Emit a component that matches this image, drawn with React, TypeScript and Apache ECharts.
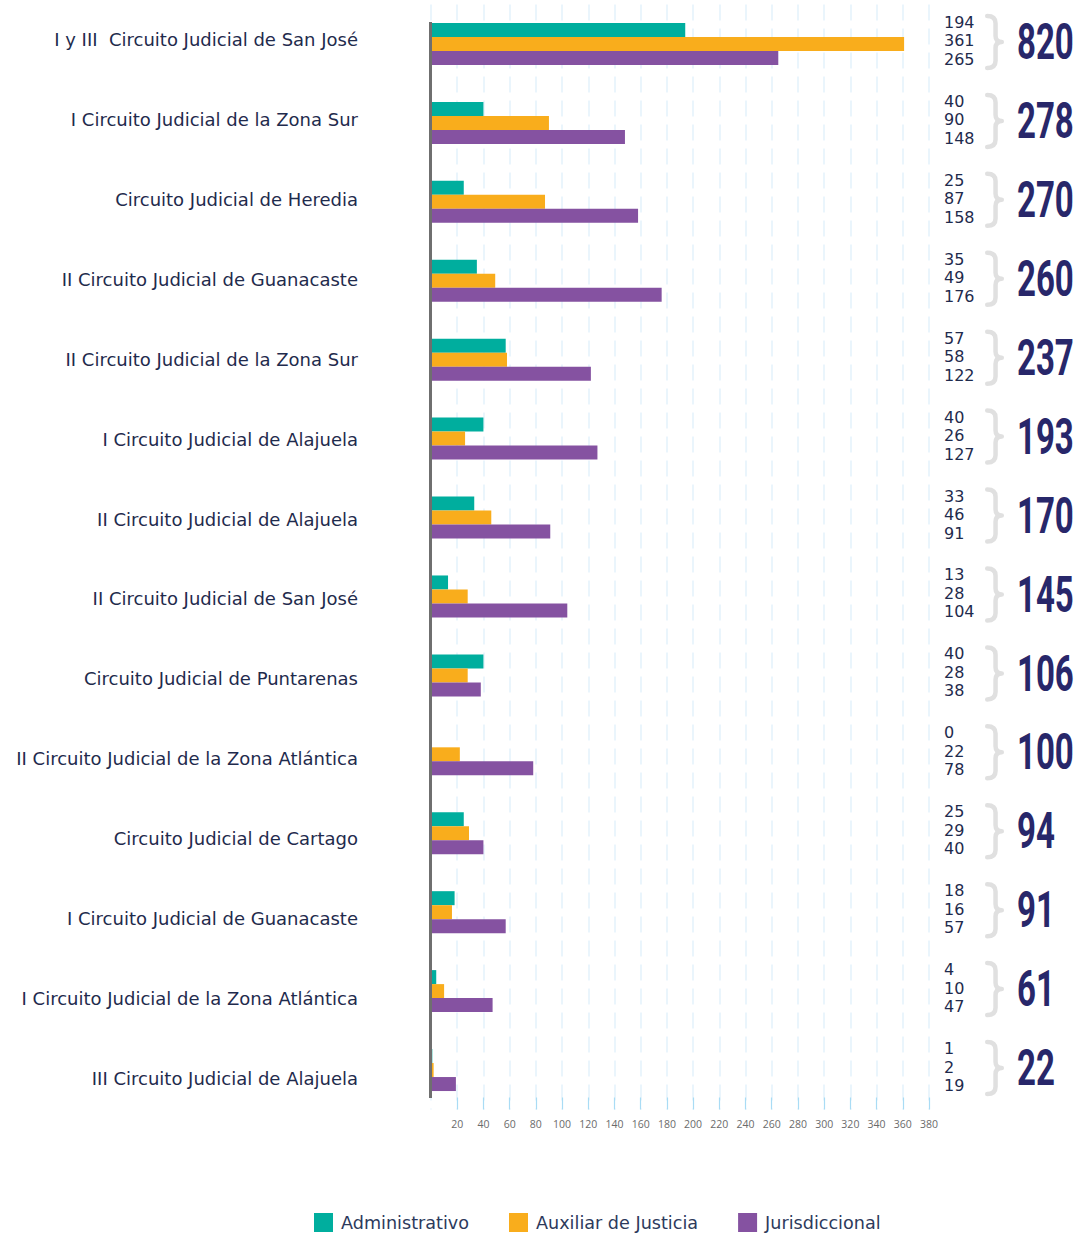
import React, { useEffect, useRef } from "react";
import * as echarts from "echarts";

const categories = [
  "I y III  Circuito Judicial de San José",
  "I Circuito Judicial de la Zona Sur",
  "Circuito Judicial de Heredia",
  "II Circuito Judicial de Guanacaste",
  "II Circuito Judicial de la Zona Sur",
  "I Circuito Judicial de Alajuela",
  "II Circuito Judicial de Alajuela",
  "II Circuito Judicial de San José",
  "Circuito Judicial de Puntarenas",
  "II Circuito Judicial de la Zona Atlántica",
  "Circuito Judicial de Cartago",
  "I Circuito Judicial de Guanacaste",
  "I Circuito Judicial de la Zona Atlántica",
  "III Circuito Judicial de Alajuela",
];
const administrativo = [194, 40, 25, 35, 57, 40, 33, 13, 40, 0, 25, 18, 4, 1];
const auxiliar = [361, 90, 87, 49, 58, 26, 46, 28, 28, 22, 29, 16, 10, 2];
const jurisdiccional = [265, 148, 158, 176, 122, 127, 91, 104, 38, 78, 40, 57, 47, 19];
const totals = [820, 278, 270, 260, 237, 193, 170, 145, 106, 100, 94, 91, 61, 22];
const seriesNames = ["Administrativo", "Auxiliar de Justicia", "Jurisdiccional"];
const colors = ["#00ae9e", "#f9ad1c", "#8552a1"];
const axisMax = 380;
const axisInterval = 20;

const BRACE = "M1,1 Q9,1 9,8 L9,20 Q9,26 15,26 Q9,26 9,32 L9,44 Q9,51 1,51";

export default function App() {
  const ref = useRef<HTMLDivElement>(null);
  useEffect(() => {
    document.body.style.margin = "0";
    document.body.style.overflow = "hidden";
    const chart = echarts.init(ref.current!, null, { renderer: "svg" });
    const font = "Open Sans";
    const labelFont = "DejaVu Sans";
    const annot = categories.map((_, i) => [
      axisMax,
      i,
      administrativo[i],
      auxiliar[i],
      jurisdiccional[i],
      totals[i],
    ]);
    chart.setOption({
      animation: false,
      color: colors,
      grid: [
        { left: 431, top: 4.5, height: 1105, width: 498, containLabel: false },
        { left: 431, top: -2, height: 1120, width: 10, containLabel: false },
      ],
      legend: {
        left: 314,
        top: 1213,
        padding: 0,
        itemWidth: 19,
        itemHeight: 19,
        itemGap: 40,
        icon: "rect",
        textStyle: {
          fontSize: 17.6,
          color: "#2d3a5c",
          fontFamily: labelFont,
          padding: [0, 0, 0, 3],
        },
        data: seriesNames,
      },
      xAxis: [
        {
          type: "value",
          min: 0,
          max: axisMax,
          interval: axisInterval,
          axisLine: { show: false },
          axisTick: {
            show: true,
            inside: true,
            length: 12,
            lineStyle: { color: "#a9dcf5", width: 1.2 },
          },
          axisLabel: {
            showMinLabel: false,
            fontSize: 10.5,
            color: "#6b6b6b",
            fontFamily: font,
            margin: 9,
          },
          splitLine: {
            show: true,
            lineStyle: { color: "#e3f2fc", width: 1.5, type: [16, 8] },
          },
        },
        {
          type: "value",
          gridIndex: 1,
          show: false,
        },
      ],
      yAxis: [
        {
          type: "category",
          data: categories,
          inverse: true,
          axisLine: { show: false },
          axisTick: { show: false },
          axisLabel: { show: false },
        },
        {
          type: "category",
          gridIndex: 1,
          data: categories,
          inverse: true,
          axisLine: { show: false },
          axisTick: { show: false },
          splitLine: { show: false },
          axisLabel: {
            fontSize: 18,
            color: "#1f2b4d",
            fontFamily: labelFont,
            margin: 73,
          },
        },
      ],
      graphic: [
        {
          type: "line",
          shape: { x1: 430.5, y1: 22, x2: 430.5, y2: 1098 },
          style: { stroke: "#6f6f6f", lineWidth: 3 },
          z: 100,
        },
      ],
      series: [
        {
          name: seriesNames[0],
          type: "bar",
          data: administrativo,
          barWidth: 14,
          barGap: "0%",
        },
        {
          name: seriesNames[1],
          type: "bar",
          data: auxiliar,
          barWidth: 14,
          barGap: "0%",
        },
        {
          name: seriesNames[2],
          type: "bar",
          data: jurisdiccional,
          barWidth: 14,
          barGap: "0%",
        },
        {
          type: "custom",
          clip: false,
          silent: true,
          encode: { x: 0, y: 1 },
          data: annot,
          z: 10,
          renderItem: (params: any, api: any) => {
            const p = api.coord([api.value(0), api.value(1)]);
            const cx = p[0];
            const cy = p[1] - 3;
            const vals = [api.value(2), api.value(3), api.value(4)];
            const children: any[] = [
              {
                type: "text",
                x: cx + 15,
                y: cy,
                style: {
                  text: vals.join("\n"),
                  fill: "#1f2b4d",
                  fontSize: 16,
                  lineHeight: 18.5,
                  fontFamily: labelFont,
                  align: "left",
                  verticalAlign: "middle",
                },
              },
            ];
            children.push({
              type: "path",
              shape: {
                pathData: BRACE,
                x: cx + 58,
                y: cy - 25,
                width: 15,
                height: 52,
              },
              style: {
                fill: "none",
                stroke: "#e0e0e0",
                lineWidth: 4.5,
                lineCap: "round",
                lineJoin: "round",
              },
            });
            children.push({
              type: "text",
              x: cx + 88,
              y: cy + 1,
              scaleX: 0.66,
              style: {
                text: String(api.value(5)),
                fill: "#28276a",
                fontSize: 50,
                fontWeight: "bold",
                fontFamily: "Roboto",
                align: "left",
                verticalAlign: "middle",
              },
            });
            return { type: "group", children };
          },
        },
      ],
    });
    return () => chart.dispose();
  }, []);
  return <div ref={ref} style={{ width: 1076, height: 1233 }} />;
}
